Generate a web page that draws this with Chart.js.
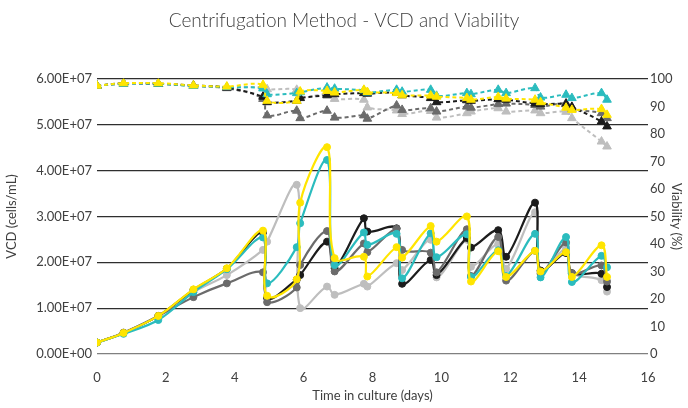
<!DOCTYPE html>
<html>
<head>
<meta charset="utf-8">
<script src="https://cdn.jsdelivr.net/npm/chart.js@4"></script>
<style>
  body { margin: 0; background: #fff; }
  #wrap { width: 688px; height: 408px; }
</style>
</head>
<body>
<div id="wrap"><canvas id="vcdChart" width="688" height="408"></canvas></div>
<script>
// sample times (days) - before/after passage points are close together
const days = [0, 0.77, 1.78, 2.8, 3.77, 4.82, 4.94, 5.8, 5.9, 6.68, 6.9, 7.75, 7.85, 8.7, 8.86,
    9.69, 9.86, 10.74, 10.86, 11.65, 11.88, 12.72, 12.88, 13.62, 13.79, 14.65, 14.81];

// VCD (cells/mL)
const vcdYellow = [0.25e7, 0.46e7, 0.83e7, 1.41e7, 1.87e7, 2.69e7, 1.27e7, 1.63e7, 3.30e7, 4.51e7, 2.09e7, 2.12e7, 1.69e7, 2.33e7, 2.10e7,
    2.79e7, 2.45e7, 3.00e7, 1.58e7, 2.24e7, 1.68e7, 2.25e7, 1.80e7, 2.22e7, 1.68e7, 2.37e7, 1.68e7];
const vcdTeal = [0.25e7, 0.44e7, 0.74e7, 1.35e7, 1.85e7, 2.54e7, 1.54e7, 2.33e7, 2.85e7, 4.23e7, 1.94e7, 2.65e7, 2.38e7, 2.62e7, 1.65e7,
    2.63e7, 2.11e7, 2.61e7, 1.68e7, 2.26e7, 1.70e7, 2.62e7, 1.67e7, 2.55e7, 1.57e7, 2.14e7, 1.89e7];
const vcdBlack = [0.25e7, 0.46e7, 0.83e7, 1.40e7, 1.86e7, 2.65e7, 1.22e7, 1.62e7, 1.72e7, 2.45e7, 1.87e7, 2.96e7, 2.67e7, 2.74e7, 1.53e7,
    2.05e7, 1.72e7, 2.53e7, 2.32e7, 2.70e7, 2.12e7, 3.30e7, 1.82e7, 2.20e7, 1.76e7, 1.75e7, 1.46e7];
const vcdDarkGray = [0.25e7, 0.46e7, 0.83e7, 1.24e7, 1.54e7, 1.78e7, 1.13e7, 1.45e7, 1.94e7, 2.68e7, 1.80e7, 2.41e7, 2.22e7, 2.73e7, 2.27e7,
    2.21e7, 1.78e7, 2.72e7, 1.70e7, 2.55e7, 1.60e7, 2.25e7, 1.75e7, 2.43e7, 1.76e7, 1.93e7, 1.58e7];
const vcdLightGray = [0.25e7, 0.47e7, 0.83e7, 1.35e7, 1.72e7, 2.27e7, 2.45e7, 3.69e7, 1.00e7, 1.47e7, 1.29e7, 1.53e7, 1.47e7, 1.98e7, 1.83e7,
    2.49e7, 1.67e7, 2.49e7, 1.90e7, 2.40e7, 1.86e7, 3.09e7, 1.78e7, 2.31e7, 1.77e7, 1.61e7, 1.36e7];

// Viability (%)
const viaYellow = [97.5, 98.4, 98.4, 97.6, 97.2, 97.8, 92.0, 92.0, 95.4, 95.6, 95.0, 96.0, 95.2, 94.8, 94.0,
    93.9, 93.5, 93.0, 92.4, 93.4, 92.8, 92.4, 91.5, 89.5, 88.7, 89.0, 86.9];
const viaTeal = [97.5, 98.2, 98.2, 97.4, 97.0, 96.5, 94.4, 94.8, 95.1, 96.8, 96.4, 95.8, 95.0, 96.0, 95.3,
    96.0, 93.8, 94.8, 94.4, 96.0, 94.8, 96.6, 93.2, 94.2, 93.0, 94.8, 92.4];
const viaBlack = [97.5, 98.4, 98.2, 97.6, 96.8, 93.5, 91.5, 92.0, 93.0, 94.0, 94.4, 94.8, 94.6, 95.0, 94.0,
    93.0, 91.5, 92.2, 92.0, 92.6, 92.4, 91.0, 90.8, 90.8, 89.8, 84.5, 82.7];
const viaDarkGray = [97.5, 98.2, 98.2, 97.4, 96.6, 92.7, 86.7, 88.4, 85.7, 88.4, 85.9, 86.7, 85.5, 90.3, 88.7,
    89.3, 88.1, 89.9, 89.5, 90.8, 91.0, 90.5, 89.9, 91.1, 89.1, 87.5, 85.7];
const viaLightGray = [97.5, 98.2, 98.2, 97.4, 96.8, 97.0, 96.2, 96.0, 93.2, 94.4, 92.7, 92.4, 89.6, 88.5, 87.2,
    88.3, 85.9, 87.5, 88.1, 89.3, 88.1, 88.5, 87.5, 88.0, 85.7, 77.2, 75.4];

const colors = {
    yellow: '#FFE500',
    teal: '#2BBCBE',
    black: '#1C1C1C',
    darkGray: '#6B6B6B',
    lightGray: '#BEBEBE'
};

function toPoints(values) {
    return days.map((d, i) => ({ x: d, y: values[i] }));
}

function vcdSet(label, values, color) {
    return {
        label: label,
        data: toPoints(values),
        yAxisID: 'y',
        borderColor: color,
        backgroundColor: color,
        borderWidth: 2.2,
        tension: 0.35,
        pointStyle: 'circle',
        pointRadius: 3.5,
        pointBorderWidth: 1
    };
}

function viaSet(label, values, color) {
    return {
        label: label,
        data: toPoints(values),
        yAxisID: 'y1',
        borderColor: color,
        backgroundColor: color,
        borderWidth: 2,
        borderDash: [4, 3],
        tension: 0.35,
        pointStyle: 'triangle',
        pointRadius: 5,
        pointBorderWidth: 1
    };
}

// Excel style 0.00E+00
function sciLabel(v) {
    if (v === 0) return '0.00E+00';
    const e = Math.floor(Math.log10(v) + 1e-9);
    const m = v / Math.pow(10, e);
    return m.toFixed(2) + 'E+' + String(e).padStart(2, '0');
}

Chart.defaults.font.family = "Lato, 'Open Sans', sans-serif";
Chart.defaults.font.size = 13;
Chart.defaults.color = '#404040';

const ctx = document.getElementById('vcdChart').getContext('2d');
const chart = new Chart(ctx, {
    type: 'line',
    data: {
        datasets: [
            vcdSet('VCD yellow', vcdYellow, colors.yellow),
            vcdSet('VCD teal', vcdTeal, colors.teal),
            vcdSet('VCD dark gray', vcdDarkGray, colors.darkGray),
            vcdSet('VCD black', vcdBlack, colors.black),
            vcdSet('VCD light gray', vcdLightGray, colors.lightGray),
            viaSet('Viability yellow', viaYellow, colors.yellow),
            viaSet('Viability teal', viaTeal, colors.teal),
            viaSet('Viability black', viaBlack, colors.black),
            viaSet('Viability dark gray', viaDarkGray, colors.darkGray),
            viaSet('Viability light gray', viaLightGray, colors.lightGray)
        ]
    },
    options: {
        responsive: false,
        animation: false,
        layout: { padding: 0 },
        plugins: {
            legend: { display: false },
            tooltip: { enabled: false },
            title: {
                display: true,
                text: 'Centrifugation Method - VCD and Viability',
                color: '#404040',
                font: { size: 19, weight: 300 },
                padding: { top: 9, bottom: 47 }
            }
        },
        scales: {
            x: {
                type: 'linear',
                min: 0,
                max: 16,
                ticks: { stepSize: 2, padding: 8 },
                grid: { display: false },
                border: { display: false },
                title: {
                    display: true,
                    text: 'Time in culture (days)',
                    padding: { top: 4, bottom: 4 }
                },
                afterFit: (scale) => { scale.height = 54; }
            },
            y: {
                position: 'left',
                min: 0,
                max: 6e7,
                ticks: { stepSize: 1e7, padding: 5, callback: (v) => sciLabel(v) },
                grid: {
                    drawTicks: false,
                    color: (c) => (c.tick && c.tick.value === 0) ? '#808080' : '#2e2e2e',
                    lineWidth: 1.2
                },
                border: { display: false },
                title: { display: true, text: 'VCD (cells/mL)' },
                afterFit: (scale) => { scale.width = 97; }
            },
            y1: {
                position: 'right',
                min: 0,
                max: 100,
                ticks: { stepSize: 10, padding: 2 },
                grid: { display: false, drawTicks: false },
                border: { display: false },
                title: { display: true, text: 'Viability (%)' },
                afterFit: (scale) => { scale.width = 40; }
            }
        }
    }
});
</script>
</body>
</html>
